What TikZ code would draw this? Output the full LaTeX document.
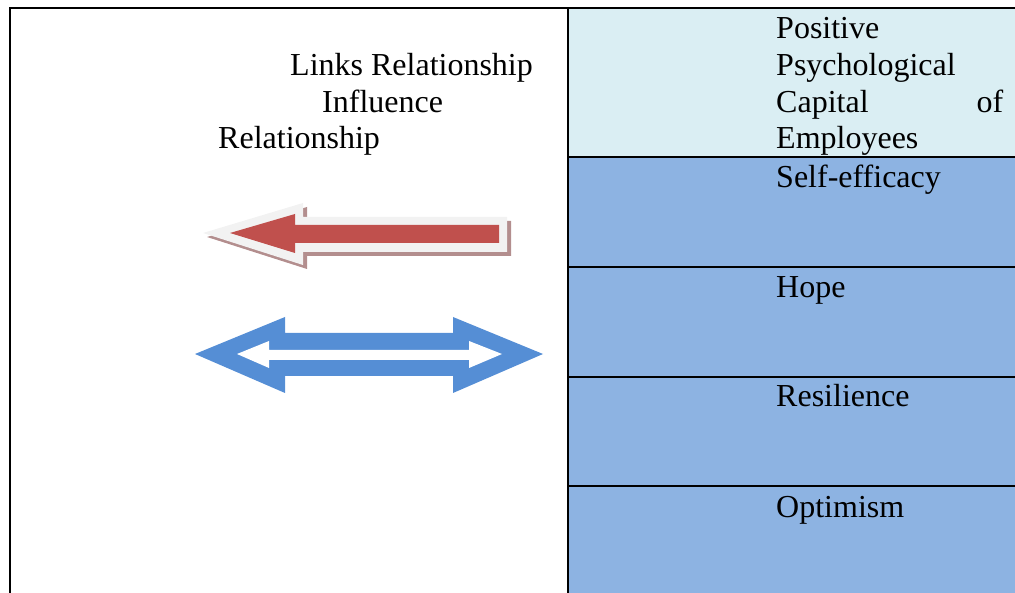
\documentclass[tikz,border=0pt]{standalone}
\usepackage{fontspec}
\setmainfont{Liberation Serif}
\definecolor{headfill}{HTML}{DAEEF3}
\definecolor{rowfill}{HTML}{8DB3E2}
\definecolor{arrowred}{HTML}{C0504D}
\definecolor{arrowrim}{HTML}{F2F2F2}
\definecolor{arrowshade}{HTML}{B38E8E}
\definecolor{arrowblue}{HTML}{558ED5}
\begin{document}
\begin{tikzpicture}[x=1pt,y=-1pt,
  rule/.style={line width=2pt,black},
  lbl/.style={anchor=base west,inner sep=0pt,font=\fontsize{32}{37}\selectfont}]
\useasboundingbox (0,0) rectangle (1015,593);

% right column fills
\fill[headfill] (568,8) rectangle (1015,157);
\fill[rowfill] (568,157) rectangle (1015,593);

% frame and rules
\draw[rule] (9,8) -- (1015,8);
\draw[rule] (10,8) -- (10,593);
\draw[rule] (568,8) -- (568,593);
\foreach \yy in {157,267,377,486}
  \draw[rule] (568,\yy) -- (1015,\yy);

% left column labels
\node[lbl] (links) at (290,76) {Links Relationship};
\node[lbl] (infl) at (322,113) {Influence};
\node[lbl] (rel) at (218,149) {Relationship};

% right column labels
\node[lbl] (pos) at (776,39) {Positive};
\node[lbl] (psy) at (776,76) {Psychological};
\node[lbl] (cap) at (776,113) {\makebox[227pt][s]{Capital\hfill of}};
\node[lbl] (emp) at (776,149) {Employees};
\node[lbl] (self) at (776,188) {Self-efficacy};
\node[lbl] (hope) at (776,298) {Hope};
\node[lbl] (resi) at (776,407) {Resilience};
\node[lbl] (opti) at (776,517) {Optimism};

% influence arrow: shadow, rim, body
\fill[arrowshade] ([shift={(4,4)}]203,233) -- ([shift={(4,4)}]303,203) -- ([shift={(4,4)}]303,217)
  -- ([shift={(4,4)}]507,217) -- ([shift={(4,4)}]507,252) -- ([shift={(4,4)}]303,252)
  -- ([shift={(4,4)}]303,265) -- cycle;
\fill[arrowrim] (203,233) -- (303,203) -- (303,217) -- (507,217) -- (507,252)
  -- (303,252) -- (303,265) -- cycle;
\fill[arrowred] (230,233) -- (295,214) -- (295,225) -- (499,225) -- (499,243)
  -- (295,243) -- (295,253) -- cycle;

% link arrow: blue outline with white core
\fill[arrowblue] (195,354) -- (285,317) -- (285,333) -- (453,333) -- (453,317)
  -- (543,354) -- (453,393) -- (453,376) -- (285,376) -- (285,393) -- cycle;
\fill[white] (237,354) -- (269,341) -- (269,350) -- (469,350) -- (469,341)
  -- (502,354) -- (469,368) -- (469,360) -- (269,360) -- (269,368) -- cycle;
\end{tikzpicture}
\end{document}
